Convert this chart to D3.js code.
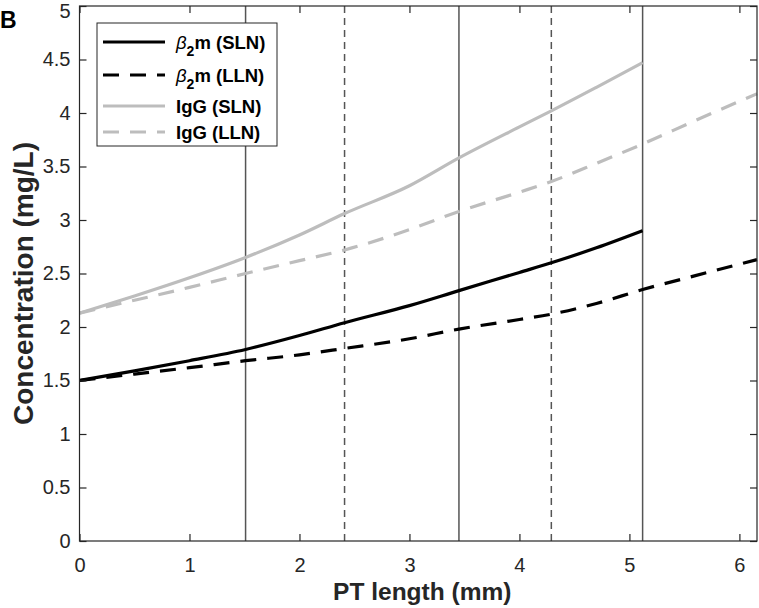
<!DOCTYPE html>
<html><head><meta charset="utf-8">
<script src="https://cdn.jsdelivr.net/npm/d3@7"></script>
<style>body{margin:0;background:#fff}svg{display:block}</style>
</head><body>
<svg id="chart" width="759" height="608"></svg>
<script>
const xTicks = [0,1,2,3,4,5,6];
const yTicks = [0,0.5,1,1.5,2,2.5,3,3.5,4,4.5,5];
const solidMarks = [1.51, 3.45, 5.12];
const dashedMarks = [2.41, 4.29];
const xSLN = [0,0.5,1.0,1.51,2.0,2.41,3.0,3.45,4.0,4.29,4.7,5.12];
const xLLN = [0,0.5,1.0,1.51,2.0,2.41,3.0,3.45,4.0,4.29,4.7,5.12,5.6,6.16];
const b2mSLN = [1.50,1.59,1.685,1.79,1.92,2.04,2.20,2.34,2.51,2.60,2.74,2.90];
const b2mLLN = [1.50,1.56,1.62,1.685,1.74,1.80,1.89,1.98,2.07,2.12,2.22,2.35,2.48,2.63];
const iggSLN = [2.13,2.29,2.46,2.65,2.86,3.06,3.32,3.58,3.87,4.02,4.24,4.47];
const iggLLN = [2.13,2.25,2.37,2.50,2.62,2.72,2.91,3.08,3.26,3.36,3.53,3.71,3.93,4.18];
const seriesNames = ["SLN","LLN","IgG (SLN)","IgG (LLN)"];

const svg = d3.select("#chart");
const L = 79.5, R = 757, T = 6, B = 541;
const x = d3.scaleLinear().domain([0, 6.16]).range([L, R]);
const y = d3.scaleLinear().domain([0, 5]).range([B, T]);
const axisColor = "#262626";
const font = "'Liberation Sans', Arial, sans-serif";

// vertical reference lines
svg.selectAll(".vs").data(solidMarks).join("line")
  .attr("x1", d => x(d)).attr("x2", d => x(d)).attr("y1", B).attr("y2", T)
  .attr("stroke", "#555").attr("stroke-width", 1.5);
svg.selectAll(".vd").data(dashedMarks).join("line")
  .attr("x1", d => x(d)).attr("x2", d => x(d)).attr("y1", B).attr("y2", T)
  .attr("stroke", "#555").attr("stroke-width", 1.5).attr("stroke-dasharray", "7,5");

const line = d3.line().curve(d3.curveMonotoneX).x(d => x(d[0])).y(d => y(d[1]));
const series = [
  {xs: xSLN, ys: b2mSLN, color: "#000", dash: null},
  {xs: xLLN, ys: b2mLLN, color: "#000", dash: "16,11"},
  {xs: xSLN, ys: iggSLN, color: "#bdbdbd", dash: null},
  {xs: xLLN, ys: iggLLN, color: "#bdbdbd", dash: "16,11"}
];
[2,3,0,1].forEach(i => {
  const s = series[i];
  svg.append("path").datum(s.xs.map((v,j)=>[v, s.ys[j]]))
    .attr("d", line).attr("fill","none").attr("stroke", s.color)
    .attr("stroke-width", 3.2).attr("stroke-dasharray", s.dash);
});

// axes with inside ticks
const gx = svg.append("g").attr("transform", `translate(0,${B})`)
  .call(d3.axisBottom(x).tickValues(xTicks).tickSizeInner(-7).tickSizeOuter(0).tickPadding(17).tickFormat(d3.format("d")));
const gxt = svg.append("g").attr("transform", `translate(0,${T})`)
  .call(d3.axisTop(x).tickValues(xTicks).tickSizeInner(-7).tickSizeOuter(0).tickFormat(""));
const gy = svg.append("g").attr("transform", `translate(${L},0)`)
  .call(d3.axisLeft(y).tickValues(yTicks).tickSizeInner(-7).tickSizeOuter(0).tickPadding(9).tickFormat(d => d3.format("")(d)));
const gyr = svg.append("g").attr("transform", `translate(${R},0)`)
  .call(d3.axisRight(y).tickValues(yTicks).tickSizeInner(-7).tickSizeOuter(0).tickFormat(""));
[gx,gxt,gy,gyr].forEach(g => {
  g.select(".domain").remove();
  g.selectAll("line").attr("stroke", axisColor).attr("stroke-width", 1.2);
  g.selectAll("text").attr("fill", axisColor).style("font-family", font).style("font-size", "20px");
});
gy.selectAll(".tick").filter(d => d === 5).select("text").attr("y", 5);
svg.append("rect").attr("x", L).attr("y", T).attr("width", R-L).attr("height", B-T)
  .attr("fill","none").attr("stroke", axisColor).attr("stroke-width", 1.2);

// axis titles
svg.append("text").attr("x", (L+R)/2 + 4).attr("y", 600).attr("text-anchor","middle")
  .style("font-family", font).style("font-weight","bold").style("font-size","24.5px").attr("fill","#262626")
  .text("PT length (mm)");
svg.append("text").attr("transform", `translate(33,283.5) rotate(-90)`).attr("text-anchor","middle")
  .style("font-family", font).style("font-weight","bold").style("font-size","28px").attr("fill","#262626")
  .text("Concentration (mg/L)");
svg.append("text").attr("x", 0).attr("y", 28)
  .style("font-family", font).style("font-weight","bold").style("font-size","23px").attr("fill","#000")
  .text("B");

// legend
const lg = svg.append("g");
lg.append("rect").attr("x", 97).attr("y", 23).attr("width", 180).attr("height", 123)
  .attr("fill","#fff").attr("stroke", axisColor).attr("stroke-width", 1);
const rowsY = [42, 75, 106, 132];
series.forEach((s,i) => {
  lg.append("line").attr("x1", 103).attr("x2", 165).attr("y1", rowsY[i]).attr("y2", rowsY[i])
    .attr("stroke", s.color).attr("stroke-width", 3.2).attr("stroke-dasharray", s.dash);
  const t = lg.append("text").attr("x", 176).attr("y", rowsY[i] + 6.5)
    .style("font-family", font).style("font-weight","bold").style("font-size","18.5px").attr("fill","#000");
  if (i < 2) {
    t.append("tspan").style("font-style","italic").style("font-weight","normal").text("β");
    t.append("tspan").attr("dy", 7).style("font-size","14px").text("2");
    t.append("tspan").attr("dy", -7).text("m (" + seriesNames[i] + ")");
  } else {
    t.text(seriesNames[i]);
  }
});
</script>
</body></html>
